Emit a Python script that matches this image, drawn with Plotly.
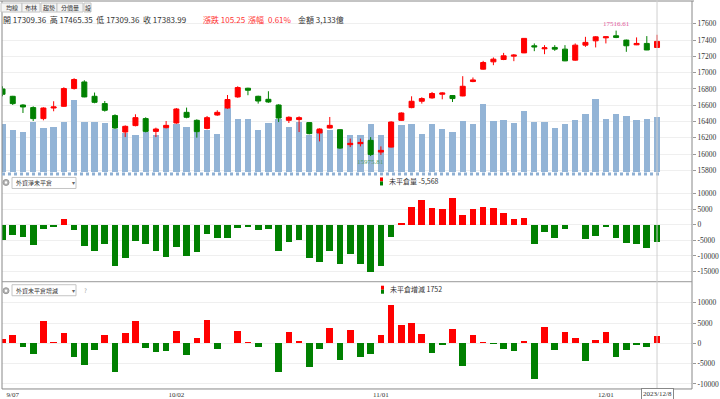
import plotly.graph_objects as go

# ---------------- data ----------------
dates = [
    "2023-09-06", "2023-09-07", "2023-09-08", "2023-09-11", "2023-09-12", "2023-09-13", "2023-09-14",
    "2023-09-15", "2023-09-18", "2023-09-19", "2023-09-20", "2023-09-21", "2023-09-22", "2023-09-25",
    "2023-09-26", "2023-09-27", "2023-09-28",
    "2023-10-02", "2023-10-03", "2023-10-04", "2023-10-05", "2023-10-06", "2023-10-11", "2023-10-12",
    "2023-10-13", "2023-10-16", "2023-10-17", "2023-10-18", "2023-10-19", "2023-10-20", "2023-10-23",
    "2023-10-24", "2023-10-25", "2023-10-26", "2023-10-27", "2023-10-30", "2023-10-31",
    "2023-11-01", "2023-11-02", "2023-11-03", "2023-11-06", "2023-11-07", "2023-11-08", "2023-11-09",
    "2023-11-10", "2023-11-13", "2023-11-14", "2023-11-15", "2023-11-16", "2023-11-17", "2023-11-20",
    "2023-11-21", "2023-11-22", "2023-11-23", "2023-11-24", "2023-11-27", "2023-11-28", "2023-11-29",
    "2023-11-30",
    "2023-12-01", "2023-12-04", "2023-12-05", "2023-12-06", "2023-12-07", "2023-12-08",
]

opens = [16800, 16710, 16603, 16571, 16436, 16566, 16587, 16805, 16886, 16710, 16620, 16473, 16271,
         16350, 16436, 16279, 16325, 16382, 16513, 16415, 16316, 16480, 16566, 16702, 16809, 16710,
         16673, 16603, 16415, 16424, 16387, 16259, 16320, 16300, 16116, 16128, 16169, 16025, 16086,
         16415, 16571, 16649, 16690, 16735, 16719, 16714, 16891, 17043, 17133, 17162, 17203, 17243,
         17330, 17293, 17310, 17289, 17154, 17338, 17391, 17428, 17453, 17400, 17342, 17359, 17309.36]
highs = [16833, 16715, 16612, 16587, 16575, 16649, 16821, 16932, 16907, 16756, 16652, 16489, 16353,
         16489, 16452, 16325, 16406, 16566, 16571, 16427, 16468, 16538, 16726, 16833, 16815, 16717,
         16772, 16612, 16464, 16464, 16390, 16316, 16456, 16304, 16190, 16190, 16209, 16095, 16403,
         16513, 16710, 16698, 16763, 16760, 16723, 16957, 16941, 17145, 17187, 17243, 17228, 17424,
         17359, 17338, 17338, 17338, 17359, 17440, 17449, 17445, 17516.61, 17406, 17433, 17449, 17465.35]
lows = [16710, 16603, 16505, 16406, 16415, 16526, 16580, 16793, 16698, 16624, 16522, 16310, 16209,
        16341, 16267, 16209, 16316, 16372, 16440, 16202, 16304, 16470, 16556, 16692, 16723, 16620,
        16630, 16394, 16382, 16271, 16243, 16156, 16316, 16064, 16086, 16095, 15975.81, 15990, 16082,
        16409, 16563, 16620, 16680, 16673, 16640, 16710, 16883, 17037, 17092, 17154, 17141, 17240,
        17264, 17227, 17268, 17141, 17147, 17317, 17310, 17359, 17424, 17256, 17338, 17277, 17309.36]
closes = [16735, 16620, 16579, 16436, 16566, 16579, 16805, 16916, 16702, 16636, 16538, 16320, 16341,
          16448, 16279, 16308, 16353, 16554, 16452, 16276, 16448, 16513, 16670, 16817, 16784, 16652,
          16640, 16443, 16452, 16448, 16251, 16308, 16353, 16074, 16132, 16144, 15996, 16046, 16394,
          16505, 16649, 16682, 16744, 16751, 16682, 16833, 16911, 17125, 17166, 17207, 17215, 17421,
          17317, 17305, 17289, 17145, 17338, 17372, 17440, 17440, 17433, 17330, 17359, 17278.74, 17383.99]

# 成交金額 (億)
amount = [2734, 2392, 2278, 2865, 2506, 2563, 2865, 4141, 2865, 2848, 2831, 2466, 2239, 2125, 2278,
          2125, 2506, 2774, 2580, 2318, 2432, 2204, 3645, 3036, 3059, 2392, 2791, 3036, 2580, 2848,
          2125, 2392, 2392, 2392, 2147, 2147, 2734, 2108, 2865, 2677, 2734, 2164, 2774, 2489, 2318,
          2922, 2774, 3890, 2922, 3002, 2831, 3475, 2888, 2865, 2523, 2774, 2962, 3304, 4198, 3019,
          3321, 3207, 3002, 3059, 3133]

# 外資淨未平倉
oi_net = [-4950, -3120, -3760, -6560, -1180, -540, 1830, -1500, -6770, -8280, -6130, -13230, -10650,
          -5140, -6290, -8430, -10200, -7100, -9900, -8600, -2850, -4300, -4300, -1000, -620, -1500,
          -1400, -8300, -5500, -4850, -10650, -12000, -8300, -12500, -9250, -12550, -15160, -13230,
          -3760, 750, 5700, 7960, 5480, 5050, 8710, 3120, 5270, 5700, 5480, 3980, 1940, 2370, -6240,
          -2370, -4300, -1290, -100, -4520, -3550, -750, -4300, -5810, -6240, -7320, -5568]

# 外資未平倉增減
oi_chg = [1070, 1980, -820, -2720, 5430, 330, 2550, -3380, -5430, -1650, 2060, -7080, 2470, 5510,
          -1150, -2140, -1810, 3050, -2800, 1320, 5760, -1480, 0, 3050, 330, -910, 80, -7000, 2800,
          660, -5840, -1320, 3700, -4200, 3210, -3300, -2720, 1980, 9550, 4610, 5020, 2310, -2390,
          -330, 3620, -5600, 2060, 410, -80, -1480, -1890, 490, -8890, 4030, -1730, 2880, 1230, -4280,
          820, 2800, -3460, -1560, -330, -900, 1752]

tick_dates = ["2023-09-07", "2023-10-02", "2023-11-01", "2023-12-01"]
tick_text = ["9/07<br>2023", "10/02", "11/01", "12/01"]
price_ticks = [15800, 16000, 16200, 16400, 16600, 16800, 17000, 17200, 17400, 17600]
oi_ticks = [10000, 5000, 0, -5000, -10000, -15000]
chg_ticks = [10000, 5000, 0, -5000, -10000]
tabs = ["均線", "布林", "趨勢", "分價量", "設"]

# ---------------- helpers ----------------
W, H = 720, 399          # reference picture size (layout positions are given in these pixels)
FIG_H = 408              # page height used for drawing
def px(x):
    return x / W
def py(y):
    return 1 - y / H

RED = "#ff0000"
GREEN = "#008000"
CJK = "Noto Sans CJK TC, Noto Sans, sans-serif"
NUM = "Liberation Serif, DejaVu Serif, serif"

XL, XR = 2, 692
xdom = [px(XL), px(XR)]
xr = [-0.05, 67.42]

fig = go.Figure()

# volume (base axis, behind candles)
fig.add_trace(go.Bar(x=dates, y=amount, xaxis="x", yaxis="y", width=0.62,
                     marker=dict(color="#93b4d6", line=dict(width=0)), showlegend=False,
                     hoverinfo="skip"))
# candles
fig.add_trace(go.Candlestick(x=dates, open=opens, high=highs, low=lows, close=closes,
                             xaxis="x", yaxis="y2", showlegend=False,
                             increasing=dict(line=dict(color=RED, width=1), fillcolor=RED),
                             decreasing=dict(line=dict(color=GREEN, width=1), fillcolor=GREEN),
                             whiskerwidth=0))
# 外資淨未平倉
fig.add_trace(go.Bar(x=dates, y=oi_net, xaxis="x2", yaxis="y3", width=0.65,
                     marker=dict(color=[RED if v >= 0 else GREEN for v in oi_net], line=dict(width=0)),
                     showlegend=False))
# 外資未平倉增減
fig.add_trace(go.Bar(x=dates, y=oi_chg, xaxis="x3", yaxis="y4", width=0.65,
                     marker=dict(color=[RED if v >= 0 else GREEN for v in oi_chg], line=dict(width=0)),
                     showlegend=False))

d1 = [py(172), py(14)]
d2 = [py(281), py(175)]
d3 = [py(388), py(283)]

tickfont = dict(family=NUM, size=7.5, color="#333")
common_x = dict(type="category", range=xr, domain=xdom, showgrid=False, zeroline=False,
                fixedrange=True)
fig.update_layout(
    width=W, height=FIG_H, margin=dict(l=0, r=0, t=0, b=0), autosize=False,
    paper_bgcolor="white", plot_bgcolor="white", showlegend=False, bargap=0,
    xaxis=dict(common_x, anchor="y", showticklabels=False, rangeslider=dict(visible=False)),
    yaxis=dict(domain=d1, range=[0, 9000], visible=False, fixedrange=True),
    yaxis2=dict(overlaying="y", side="right", anchor="x", range=[15775, 17720],
                tickvals=price_ticks, ticktext=[str(t) for t in price_ticks],
                showgrid=True, gridcolor="#efefef", gridwidth=1, zeroline=False,
                ticks="outside", ticklen=3, tickcolor="#999", tickfont=tickfont),
    xaxis2=dict(common_x, anchor="y3", showticklabels=False),
    yaxis3=dict(domain=d2, side="right", anchor="x2", range=[-18314, 15924],
                tickvals=oi_ticks, ticktext=[str(t) for t in oi_ticks],
                showgrid=True, gridcolor="#efefef", zeroline=False,
                ticks="outside", ticklen=3, tickcolor="#999", tickfont=tickfont),
    xaxis3=dict(common_x, anchor="y4", tickvals=tick_dates, ticktext=tick_text,
                ticks="", tickfont=dict(family=NUM, size=7, color="#333")),
    yaxis4=dict(domain=d3, side="right", anchor="x3", range=[-11235, 14691],
                tickvals=chg_ticks, ticktext=[str(t) for t in chg_ticks],
                showgrid=True, gridcolor="#efefef", zeroline=False,
                ticks="outside", ticklen=3, tickcolor="#999", tickfont=tickfont),
)

shapes = []
def line(x0, y0, x1, y1, color="#999", width=1, dash=None):
    d = dict(type="line", xref="paper", yref="paper", x0=px(x0), y0=py(y0), x1=px(x1), y1=py(y1),
             line=dict(color=color, width=width))
    if dash:
        d["line"]["dash"] = dash
    shapes.append(d)

def rect(x0, y0, x1, y1, fill="white", color="#bbb", width=1):
    shapes.append(dict(type="rect", xref="paper", yref="paper", x0=px(x0), y0=py(y0),
                       x1=px(x1), y1=py(y1), fillcolor=fill, line=dict(color=color, width=width)))

# frame
line(0, 1, 694, 1, "#888")
line(XL, 1, XL, 388, "#888")
line(XR, 1, XR, 388, "#888")
line(XL, 388, XR, 388, "#888")
line(XL, 281, XR, 281, "#999")
line(XL, 173.5, 660, 173.5, "#8fb0d3", 3, "dot")

# crosshair
shapes.append(dict(type="line", xref="x3", yref="paper", x0=dates[-1], x1=dates[-1],
                   y0=py(388), y1=1, line=dict(color="#cfcfcf", width=1)))

annotations = []
def text(x, y, s, size=7, color="#333", family=CJK, anchor="left"):
    annotations.append(dict(xref="paper", yref="paper", x=px(x), y=py(y), text=s, showarrow=False,
                            xanchor=anchor, yanchor="middle", font=dict(family=family, size=size,
                                                                        color=color)))

# toolbar tabs
tab_x = [(1, 22), (22, 40), (41, 57), (57, 83), (84, 91)]
for (a, b), t in zip(tab_x, tabs):
    rect(a, 3, b, 12, fill="#f4f4f4", color="#c4c4c4")
    text((a + b) / 2, 7.6, t, size=6, color="#333", anchor="center")

# info line
o, h, l, c = opens[-1], highs[-1], lows[-1], closes[-1]
chg = c - closes[-2]
pct = chg / closes[-2] * 100
text(1, 19, f"開 {o:.2f}  高 {h:.2f}  低 {l:.2f}  收 {c:.2f}", size=8, color="#333")
text(201, 19, f"漲跌 {chg:.2f}", size=8, color="#ff3333")
text(246, 19, "漲幅", size=8, color="#ff3333")
text(266, 19, f"{pct:.2f}%", size=8, color="#ff3333")
text(296, 19, f"金額 {amount[-1]:,}億", size=8, color="#333")

# high / low labels
hi_i = highs.index(max(highs))
lo_i = lows.index(min(lows))
annotations.append(dict(xref="x", yref="y2", x=dates[hi_i], y=max(highs), text=f"{max(highs):.2f}",
                        showarrow=False, yanchor="bottom", yshift=1,
                        font=dict(family=NUM, size=7, color="#e0559a")))
annotations.append(dict(xref="x", yref="y2", x=dates[lo_i], y=min(lows), text=f"{min(lows):.2f}",
                        showarrow=False, yanchor="top", yshift=0,
                        font=dict(family=NUM, size=7, color="#4e9a66")))

# panel 2 header
shapes.append(dict(type="circle", xref="paper", yref="paper", x0=px(3), y0=py(185), x1=px(9),
                   y1=py(179), fillcolor="#b5b5b5", line=dict(color="#999", width=1)))
shapes.append(dict(type="circle", xref="paper", yref="paper", x0=px(4.8), y0=py(183.2), x1=px(7.2),
                   y1=py(180.8), fillcolor="white", line=dict(width=0)))
rect(12, 177, 76, 188, fill="white", color="#c4c4c4")
text(14, 182.5, "外資淨未平倉", size=6, color="#333")
text(73, 182.5, "▾", size=6, color="#666", anchor="center")
rect(380, 177, 383, 181, fill=RED, color=RED, width=0)
rect(380, 181, 383, 185, fill=GREEN, color=GREEN, width=0)
text(387, 181, f"未平倉量 {oi_net[-1]:,}", size=7, color="#333")

# panel 3 header
shapes.append(dict(type="circle", xref="paper", yref="paper", x0=px(3), y0=py(293), x1=px(9),
                   y1=py(287), fillcolor="#b5b5b5", line=dict(color="#999", width=1)))
shapes.append(dict(type="circle", xref="paper", yref="paper", x0=px(4.8), y0=py(291.2), x1=px(7.2),
                   y1=py(288.8), fillcolor="white", line=dict(width=0)))
rect(12, 284, 76, 295, fill="white", color="#c4c4c4")
text(14, 289.5, "外資未平倉增減", size=6, color="#333")
text(73, 289.5, "▾", size=6, color="#666", anchor="center")
text(82, 289.5, "?", size=6, color="#999")
rect(381, 285, 384, 289, fill=RED, color=RED, width=0)
rect(381, 289, 384, 293, fill=GREEN, color=GREEN, width=0)
text(388, 288, f"未平倉增減 {oi_chg[-1]}", size=7, color="#333")

# date box
annotations.append(dict(xref="x3", yref="paper", x=dates[-1], y=py(393.5), text="2023/12/8",
                        showarrow=False, xanchor="center", yanchor="middle",
                        bgcolor="white", bordercolor="#888", borderwidth=1, borderpad=1,
                        font=dict(family=NUM, size=7, color="#333")))

fig.update_layout(shapes=shapes, annotations=annotations)
fig.write_html(
    "out.html",
    config={"displayModeBar": False, "staticPlot": True},
    post_script=("document.documentElement.style.margin='0';"
                 "document.documentElement.style.overflow='hidden';"
                 "document.body.style.margin='0';document.body.style.padding='0';"
                 "document.body.style.overflow='hidden';"
                 "var g=document.getElementById('{plot_id}');"
                 "g.style.overflow='hidden';"),
)
